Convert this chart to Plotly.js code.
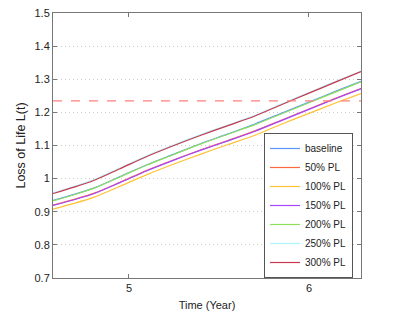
<!DOCTYPE html>
<html>
<head>
<meta charset="utf-8">
<script src="https://cdn.plot.ly/plotly-3.0.1.min.js"></script>
<style>
  html, body { margin: 0; padding: 0; background: #ffffff; }
  #chart { width: 399px; height: 327px; }
</style>
</head>
<body>
<div id="chart"></div>
<script>
  // Time in years
  const time = [4.578, 4.7, 4.811, 4.95, 5.1, 5.25, 5.4, 5.55, 5.7, 5.85, 6.0, 6.15, 6.289];

  const baseline = [0.934, 0.953, 0.973, 1.006, 1.042, 1.074, 1.106, 1.135, 1.165, 1.198, 1.231, 1.264, 1.294];
  const pl50     = [0.920, 0.938, 0.957, 0.989, 1.025, 1.057, 1.087, 1.115, 1.144, 1.177, 1.210, 1.243, 1.272];
  const pl100    = [0.908, 0.926, 0.945, 0.977, 1.012, 1.044, 1.074, 1.103, 1.131, 1.165, 1.197, 1.229, 1.257];
  const pl150    = [0.919, 0.937, 0.956, 0.988, 1.024, 1.056, 1.086, 1.114, 1.143, 1.176, 1.209, 1.242, 1.271];
  const pl200    = [0.933, 0.952, 0.972, 1.005, 1.041, 1.073, 1.105, 1.134, 1.163, 1.196, 1.229, 1.262, 1.292];
  const pl250    = [0.957, 0.977, 0.998, 1.032, 1.069, 1.102, 1.133, 1.162, 1.191, 1.226, 1.260, 1.294, 1.325];
  const pl300    = [0.955, 0.975, 0.996, 1.030, 1.067, 1.100, 1.131, 1.160, 1.189, 1.224, 1.258, 1.292, 1.323];

  const seriesNames = ['baseline', '50% PL', '100% PL', '150% PL', '200% PL', '250% PL', '300% PL'];
  const seriesValues = [baseline, pl50, pl100, pl150, pl200, pl250, pl300];
  const seriesColors = ['#5a96ff', '#ff6a3c', '#ffc234', '#a646ff', '#8ee05a', '#aef4ff', '#c8384e'];

  const threshold = 1.235;

  const FONT = 'Liberation Sans, Arial, Helvetica, sans-serif';

  const data = seriesValues.map((v, i) => ({
    x: time,
    y: v,
    type: 'scatter',
    mode: 'lines',
    name: seriesNames[i],
    line: { color: seriesColors[i], width: 1.2, shape: 'spline', smoothing: 0.8 }
  }));

  const axisCommon = {
    showline: true,
    linecolor: '#777777',
    linewidth: 1,
    mirror: 'allticks',
    ticks: 'inside',
    ticklen: 4,
    tickcolor: '#777777',
    zeroline: false,
    tickfont: { family: FONT, size: 11, color: '#222222' }
  };

  const layout = {
    width: 399,
    height: 327,
    margin: { l: 53, r: 38, t: 13, b: 49 },
    paper_bgcolor: '#ffffff',
    plot_bgcolor: '#ffffff',
    font: { family: FONT, size: 11, color: '#222222' },
    showlegend: true,
    legend: {
      x: 0.974, xanchor: 'right',
      y: 0, yanchor: 'bottom',
      bgcolor: '#ffffff',
      bordercolor: '#555555',
      borderwidth: 1,
      itemwidth: 30,
      tracegroupgap: 0,
      font: { family: FONT, size: 10, color: '#222222' }
    },
    xaxis: Object.assign({}, axisCommon, {
      range: [4.578, 6.289],
      tickvals: [5, 6],
      ticktext: ['5', '6'],
      showgrid: false,
      title: { text: 'Time (Year)', font: { family: FONT, size: 11, color: '#222222' }, standoff: 8 }
    }),
    yaxis: Object.assign({}, axisCommon, {
      range: [0.7, 1.5],
      dtick: 0.1,
      tickformat: '.1~f',
      showgrid: true,
      gridcolor: '#cccccc',
      griddash: '1px,3px',
      gridwidth: 1,
      title: { text: 'Loss of Life L(t)', font: { family: FONT, size: 12.5, color: '#222222' }, standoff: 6 }
    }),
    shapes: [{
      type: 'line', xref: 'paper', yref: 'y',
      x0: 0, x1: 1, y0: threshold, y1: threshold,
      line: { color: '#ff8080', width: 1.3, dash: 'dash' }
    }]
  };

  Plotly.newPlot('chart', data, layout, { displayModeBar: false, staticPlot: true });
</script>
</body>
</html>
